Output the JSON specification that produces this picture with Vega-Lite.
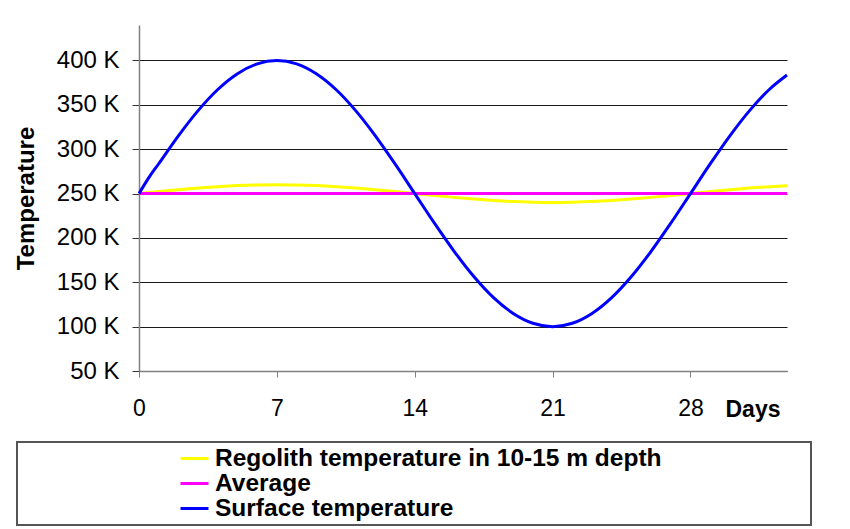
{
  "$schema": "https://vega.github.io/schema/vega-lite/v6.json",
  "autosize": {"type": "none"},
  "width": 648,
  "height": 346,
  "padding": {"left": 139, "top": 25, "right": 63, "bottom": 158},
  "background": "white",
  "config": {
    "view": {"stroke": null},
    "font": "Liberation Sans",
    "legend": {"strokeWidth": 2}
  },
  "data": {
    "values": [
      {"day": 0, "series": "Regolith temperature in 10-15 m depth", "temp": 250.0},
      {"day": 1, "series": "Regolith temperature in 10-15 m depth", "temp": 252.2},
      {"day": 2, "series": "Regolith temperature in 10-15 m depth", "temp": 254.3},
      {"day": 3, "series": "Regolith temperature in 10-15 m depth", "temp": 256.2},
      {"day": 4, "series": "Regolith temperature in 10-15 m depth", "temp": 257.8},
      {"day": 5, "series": "Regolith temperature in 10-15 m depth", "temp": 259.0},
      {"day": 6, "series": "Regolith temperature in 10-15 m depth", "temp": 259.7},
      {"day": 7, "series": "Regolith temperature in 10-15 m depth", "temp": 260.0},
      {"day": 8, "series": "Regolith temperature in 10-15 m depth", "temp": 259.7},
      {"day": 9, "series": "Regolith temperature in 10-15 m depth", "temp": 259.0},
      {"day": 10, "series": "Regolith temperature in 10-15 m depth", "temp": 257.8},
      {"day": 11, "series": "Regolith temperature in 10-15 m depth", "temp": 256.2},
      {"day": 12, "series": "Regolith temperature in 10-15 m depth", "temp": 254.3},
      {"day": 13, "series": "Regolith temperature in 10-15 m depth", "temp": 252.2},
      {"day": 14, "series": "Regolith temperature in 10-15 m depth", "temp": 250.0},
      {"day": 15, "series": "Regolith temperature in 10-15 m depth", "temp": 247.8},
      {"day": 16, "series": "Regolith temperature in 10-15 m depth", "temp": 245.7},
      {"day": 17, "series": "Regolith temperature in 10-15 m depth", "temp": 243.8},
      {"day": 18, "series": "Regolith temperature in 10-15 m depth", "temp": 242.2},
      {"day": 19, "series": "Regolith temperature in 10-15 m depth", "temp": 241.0},
      {"day": 20, "series": "Regolith temperature in 10-15 m depth", "temp": 240.3},
      {"day": 21, "series": "Regolith temperature in 10-15 m depth", "temp": 240.0},
      {"day": 22, "series": "Regolith temperature in 10-15 m depth", "temp": 240.3},
      {"day": 23, "series": "Regolith temperature in 10-15 m depth", "temp": 241.0},
      {"day": 24, "series": "Regolith temperature in 10-15 m depth", "temp": 242.2},
      {"day": 25, "series": "Regolith temperature in 10-15 m depth", "temp": 243.8},
      {"day": 26, "series": "Regolith temperature in 10-15 m depth", "temp": 245.7},
      {"day": 27, "series": "Regolith temperature in 10-15 m depth", "temp": 247.8},
      {"day": 28, "series": "Regolith temperature in 10-15 m depth", "temp": 250.0},
      {"day": 29, "series": "Regolith temperature in 10-15 m depth", "temp": 252.2},
      {"day": 30, "series": "Regolith temperature in 10-15 m depth", "temp": 254.3},
      {"day": 31, "series": "Regolith temperature in 10-15 m depth", "temp": 256.2},
      {"day": 32, "series": "Regolith temperature in 10-15 m depth", "temp": 257.8},
      {"day": 32.9, "series": "Regolith temperature in 10-15 m depth", "temp": 258.9},
      {"day": 0, "series": "Average", "temp": 250},
      {"day": 32.9, "series": "Average", "temp": 250},
      {"day": 0, "series": "Surface temperature", "temp": 250.0},
      {"day": 0.5, "series": "Surface temperature", "temp": 268.0},
      {"day": 1, "series": "Surface temperature", "temp": 283.6},
      {"day": 2, "series": "Surface temperature", "temp": 315.1},
      {"day": 3, "series": "Surface temperature", "temp": 343.5},
      {"day": 4, "series": "Surface temperature", "temp": 367.3},
      {"day": 5, "series": "Surface temperature", "temp": 385.1},
      {"day": 6, "series": "Surface temperature", "temp": 396.2},
      {"day": 7, "series": "Surface temperature", "temp": 400.0},
      {"day": 8, "series": "Surface temperature", "temp": 396.2},
      {"day": 9, "series": "Surface temperature", "temp": 385.1},
      {"day": 10, "series": "Surface temperature", "temp": 367.3},
      {"day": 11, "series": "Surface temperature", "temp": 343.5},
      {"day": 12, "series": "Surface temperature", "temp": 315.1},
      {"day": 13, "series": "Surface temperature", "temp": 283.4},
      {"day": 14, "series": "Surface temperature", "temp": 250.0},
      {"day": 15, "series": "Surface temperature", "temp": 216.6},
      {"day": 16, "series": "Surface temperature", "temp": 184.9},
      {"day": 17, "series": "Surface temperature", "temp": 156.5},
      {"day": 18, "series": "Surface temperature", "temp": 132.7},
      {"day": 19, "series": "Surface temperature", "temp": 114.9},
      {"day": 20, "series": "Surface temperature", "temp": 103.8},
      {"day": 21, "series": "Surface temperature", "temp": 100.0},
      {"day": 22, "series": "Surface temperature", "temp": 103.8},
      {"day": 23, "series": "Surface temperature", "temp": 114.9},
      {"day": 24, "series": "Surface temperature", "temp": 132.7},
      {"day": 25, "series": "Surface temperature", "temp": 156.5},
      {"day": 26, "series": "Surface temperature", "temp": 184.9},
      {"day": 27, "series": "Surface temperature", "temp": 216.6},
      {"day": 28, "series": "Surface temperature", "temp": 250.0},
      {"day": 29, "series": "Surface temperature", "temp": 283.4},
      {"day": 30, "series": "Surface temperature", "temp": 315.1},
      {"day": 31, "series": "Surface temperature", "temp": 343.5},
      {"day": 32, "series": "Surface temperature", "temp": 367.3},
      {"day": 32.9, "series": "Surface temperature", "temp": 383.6}
    ]
  },
  "mark": {"type": "line", "strokeWidth": 3, "interpolate": "monotone"},
  "encoding": {
    "x": {
      "field": "day",
      "type": "quantitative",
      "scale": {"domain": [0, 32.9], "nice": false, "zero": false},
      "axis": {
        "values": [0, 7, 14, 21, 28],
        "grid": false,
        "title": "Days",
        "titleFont": "Liberation Sans",
        "titleFontSize": 23,
        "titleFontWeight": "bold",
        "titleColor": "black",
        "titleX": 586,
        "titleY": 45,
        "titleAlign": "left",
        "titleBaseline": "alphabetic",
        "labelFontSize": 23,
        "labelColor": "black",
        "labelPadding": 20,
        "labelFlush": false,
        "tickSize": 6,
        "tickColor": "#808080",
        "domainColor": "#808080",
        "domainWidth": 1.5
      }
    },
    "y": {
      "field": "temp",
      "type": "quantitative",
      "scale": {"domain": [50, 440], "nice": false, "zero": false},
      "axis": {
        "values": [50, 100, 150, 200, 250, 300, 350, 400],
        "labelExpr": "datum.value + ' K'",
        "grid": true,
        "gridColor": "#1a1a1a",
        "gridWidth": 1,
        "title": "Temperature",
        "titleFont": "Liberation Sans",
        "titleFontSize": 24,
        "titleFontWeight": "bold",
        "titleColor": "black",
        "titleAngle": -90,
        "titleX": -106,
        "titleY": 173,
        "titleAlign": "center",
        "titleBaseline": "alphabetic",
        "labelFontSize": 24,
        "labelColor": "black",
        "labelPadding": 13,
        "labelFlush": false,
        "tickSize": 7,
        "tickColor": "#333333",
        "domainColor": "#808080",
        "domainWidth": 1.5
      }
    },
    "color": {
      "field": "series",
      "type": "nominal",
      "scale": {
        "domain": ["Regolith temperature in 10-15 m depth", "Average", "Surface temperature"],
        "range": ["#FFFF00", "#FF00FF", "#0000FF"]
      },
      "legend": {
        "orient": "none",
        "legendX": -122,
        "legendY": 417,
        "title": null,
        "direction": "vertical",
        "padding": 5,
        "strokeColor": "#555555",
        "symbolType": "stroke",
        "symbolSize": 784,
        "symbolStrokeWidth": 3,
        "symbolOffset": 157,
        "clipHeight": 23,
        "labelFont": "Liberation Sans",
        "labelFontSize": 24.5,
        "labelFontWeight": "bold",
        "labelColor": "black",
        "labelLimit": 0,
        "labelOffset": 5,
        "rowPadding": 0,
        "labelExpr": "datum.label + '\u2800\u2800\u2800\u2800\u2800\u2800\u2800\u2800'"
      }
    }
  }
}
